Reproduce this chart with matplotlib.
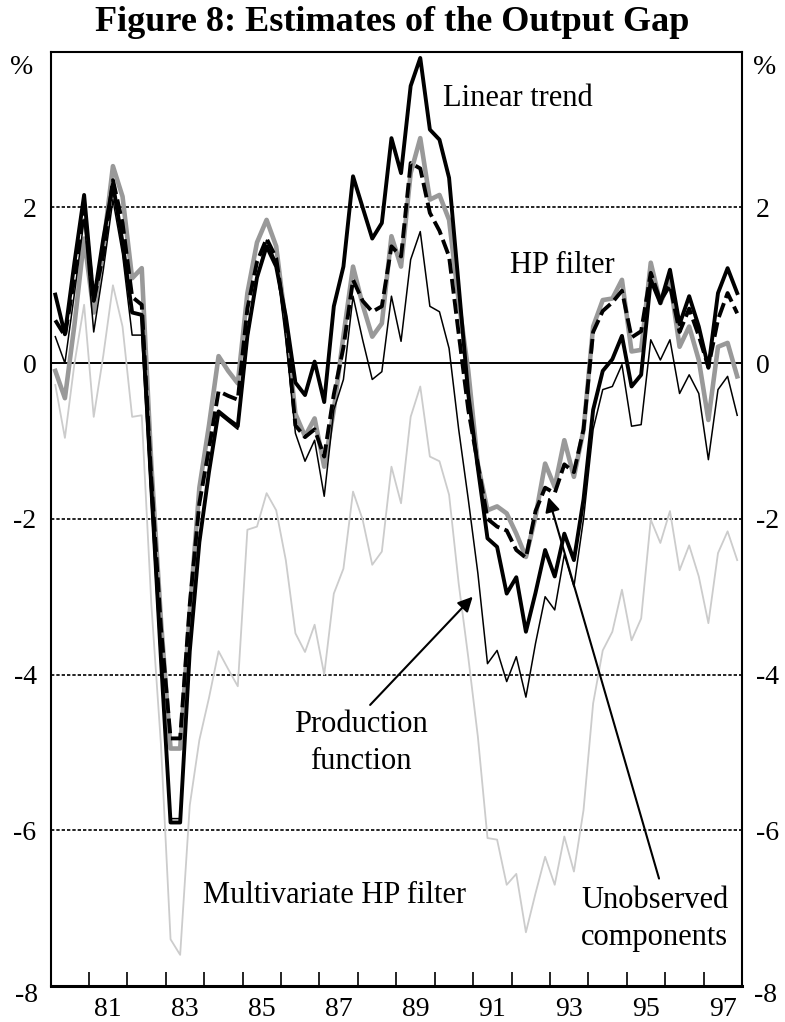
import numpy as np
import matplotlib.pyplot as plt

plt.rcParams['font.family'] = ['Liberation Serif', 'DejaVu Serif']

# quarterly output gap estimates, 1980Q1 - 1997Q4 (%)
linear_trend = [0.88, 0.37, 1.3, 2.16, 0.8, 1.6, 2.3, 1.55, 0.65, 0.62, -1.6, -3.8,
                -5.9, -5.9, -3.7, -2.3, -1.4, -0.62, -0.72, -0.81, 0.35, 1.1, 1.5, 1.24,
                0.6, -0.25, -0.41, 0.02, -0.5, 0.73, 1.24, 2.4, 2.0, 1.6, 1.8, 2.89,
                2.44, 3.56, 3.92, 3.0, 2.87, 2.38, 1.0, -0.4, -1.35, -2.25, -2.36, -2.96,
                -2.75, -3.45, -2.95, -2.4, -2.74, -2.19, -2.53, -1.75, -0.6, -0.1, 0.05, 0.35,
                -0.3, -0.15, 1.07, 0.77, 1.2, 0.5, 0.86, 0.47, -0.06, 0.9, 1.22, 0.9]
hp_filter = [-0.1, -0.45, 0.5, 1.6, 0.65, 1.5, 2.53, 2.14, 1.09, 1.22, -1.3, -3.3,
             -4.95, -4.95, -3.2, -1.6, -0.8, 0.09, -0.1, -0.26, 0.9, 1.55, 1.84, 1.5,
             0.5, -0.65, -0.94, -0.71, -1.33, -0.6, 0.35, 1.24, 0.75, 0.34, 0.51, 1.63,
             1.24, 2.44, 2.89, 2.1, 2.16, 1.84, 0.8, -0.1, -1.3, -1.89, -1.84, -1.93,
             -2.19, -2.49, -1.97, -1.29, -1.59, -0.99, -1.46, -0.86, 0.47, 0.81, 0.83, 1.07,
             0.15, 0.17, 1.29, 0.77, 1.07, 0.21, 0.47, 0.04, -0.73, 0.21, 0.26, -0.17]
unobserved = [0.55, 0.35, 1.1, 2.0, 0.8, 1.4, 2.35, 1.8, 0.85, 0.75, -1.5, -3.4,
              -4.82, -4.82, -3.1, -1.8, -1.1, -0.36, -0.42, -0.47, 0.7, 1.3, 1.6, 1.35,
              0.5, -0.8, -0.95, -0.85, -1.2, -0.4, 0.2, 1.07, 0.8, 0.66, 0.73, 1.5,
              1.37, 2.57, 2.5, 1.93, 1.7, 1.37, 0.38, -0.6, -1.3, -2.0, -2.1, -2.15,
              -2.4, -2.5, -1.9, -1.6, -1.67, -1.3, -1.4, -0.85, 0.4, 0.67, 0.78, 0.93,
              0.33, 0.41, 1.16, 0.8, 1.0, 0.4, 0.7, 0.35, -0.05, 0.56, 0.9, 0.64]
production = [0.34, 0.0, 0.9, 1.85, 0.4, 1.2, 2.1, 1.4, 0.36, 0.36, -1.8, -3.9,
              -5.85, -5.85, -3.7, -2.3, -1.4, -0.65, -0.75, -0.85, 0.3, 1.1, 1.58, 1.3,
              0.3, -0.9, -1.26, -0.99, -1.71, -0.6, -0.21, 0.86, 0.3, -0.21, -0.11, 0.86,
              0.28, 1.33, 1.69, 0.73, 0.66, 0.19, -0.85, -1.75, -2.7, -3.86, -3.69, -4.09,
              -3.77, -4.29, -3.6, -3.0, -3.17, -2.46, -2.87, -2.0, -0.85, -0.34, -0.3, -0.02,
              -0.81, -0.79, 0.3, 0.04, 0.3, -0.39, -0.15, -0.39, -1.24, -0.34, -0.17, -0.67]
multivariate = [-0.28, -0.96, 0.0, 0.75, -0.69, 0.1, 1.0, 0.47, -0.69, -0.67, -3.1, -4.9,
                -7.4, -7.6, -5.68, -4.84, -4.3, -3.7, -3.93, -4.15, -2.14, -2.1, -1.67, -1.89,
                -2.53, -3.47, -3.71, -3.36, -4.0, -2.96, -2.64, -1.65, -2.01, -2.59, -2.42, -1.33,
                -1.8, -0.69, -0.3, -1.2, -1.26, -1.69, -2.83, -3.78, -4.8, -6.1, -6.12, -6.7,
                -6.56, -7.31, -6.81, -6.34, -6.7, -6.08, -6.53, -5.74, -4.37, -3.69, -3.45, -2.91,
                -3.56, -3.28, -2.01, -2.31, -1.9, -2.66, -2.34, -2.74, -3.34, -2.44, -2.16, -2.53]

x = 1980 + 0.125 + 0.25 * np.arange(len(linear_trend))

year_labels = ['81', '83', '85', '87', '89', '91', '93', '95', '97']
ytick_vals = [-6, -4, -2, 0, 2]

fig = plt.figure(figsize=(7.85, 10.22), dpi=100)
ax = fig.add_axes([50.5/785, 36/1022, 691.5/785, 934.3/1022])

for g in [2, -2, -4, -6]:
    ax.axhline(g, color='black', lw=1.2, ls=(0, (2, 1.2)), zorder=1)
ax.axhline(0, color='black', lw=1.4, zorder=1)

ax.plot(x, multivariate, color='#cccccc', lw=1.3, zorder=2)
ax.plot(x, hp_filter, color='#999999', lw=3.3, zorder=3)
ax.plot(x, linear_trend, color='black', lw=2.8, zorder=4)
ax.plot(x, unobserved, color='black', lw=2.8, ls=(0, (3.8, 1.4)), zorder=5)
ax.plot(x, production, color='black', lw=1.1, zorder=6)

ax.set_xlim(1980, 1998)
ax.set_ylim(-8, 4)

ax.set_xticks([1981.5 + 2*k for k in range(len(year_labels))])
ax.set_xticklabels(year_labels, fontsize=20)
ax.set_xticks(np.arange(1981, 1998), minor=True)
ax.tick_params(axis='x', which='major', length=0, pad=8)
ax.tick_params(axis='x', which='minor', direction='in', length=10, width=1.2)

ax.set_yticks(ytick_vals)
ax.set_yticklabels([str(v) for v in ytick_vals], fontsize=20)
ax.tick_params(axis='y', which='both', length=0, pad=10,
               labelleft=True, labelright=True)

for side in ['left', 'right', 'top']:
    ax.spines[side].set_linewidth(1.5)
ax.spines['bottom'].set_linewidth(2.2)

# bottom "-8" labels sit a little below the axis line
fig.text(38/785, 1 - 995/1022, '-8', fontsize=20, ha='right', va='center')
fig.text(754/785, 1 - 995/1022, '-8', fontsize=20, ha='left', va='center')

fig.text(22/785, 1 - 68/1022, '%', fontsize=20, ha='center', va='center')
fig.text(765/785, 1 - 68/1022, '%', fontsize=20, ha='center', va='center')

fig.text(0.5, 1 - 22/1022, 'Figure 8: Estimates of the Output Gap',
         fontsize=26, fontweight='bold', ha='center', va='center')

ax.text(1990.22, 3.30, 'Linear trend', fontsize=22, va='baseline')
ax.text(1991.96, 1.16, 'HP filter', fontsize=22, va='baseline')
ax.text(1988.08, -4.74, 'Production', fontsize=22, ha='center', va='baseline')
ax.text(1988.08, -5.21, 'function', fontsize=22, ha='center', va='baseline')
ax.text(1983.98, -6.94, 'Multivariate HP filter', fontsize=22, va='baseline')
ax.text(1995.73, -7.0, 'Unobserved', fontsize=22, ha='center', va='baseline')
ax.text(1995.73, -7.47, 'components', fontsize=22, ha='center', va='baseline')

arrow = dict(arrowstyle='-|>', color='black', lw=1.5, mutation_scale=22,
             shrinkA=0, shrinkB=0)
ax.annotate('', xy=(1990.99, -3.0), xytext=(1988.32, -4.39), arrowprops=arrow)
ax.annotate('', xy=(1992.96, -1.72), xytext=(1995.84, -6.62), arrowprops=arrow)

fig.savefig('out.png', dpi=100)
